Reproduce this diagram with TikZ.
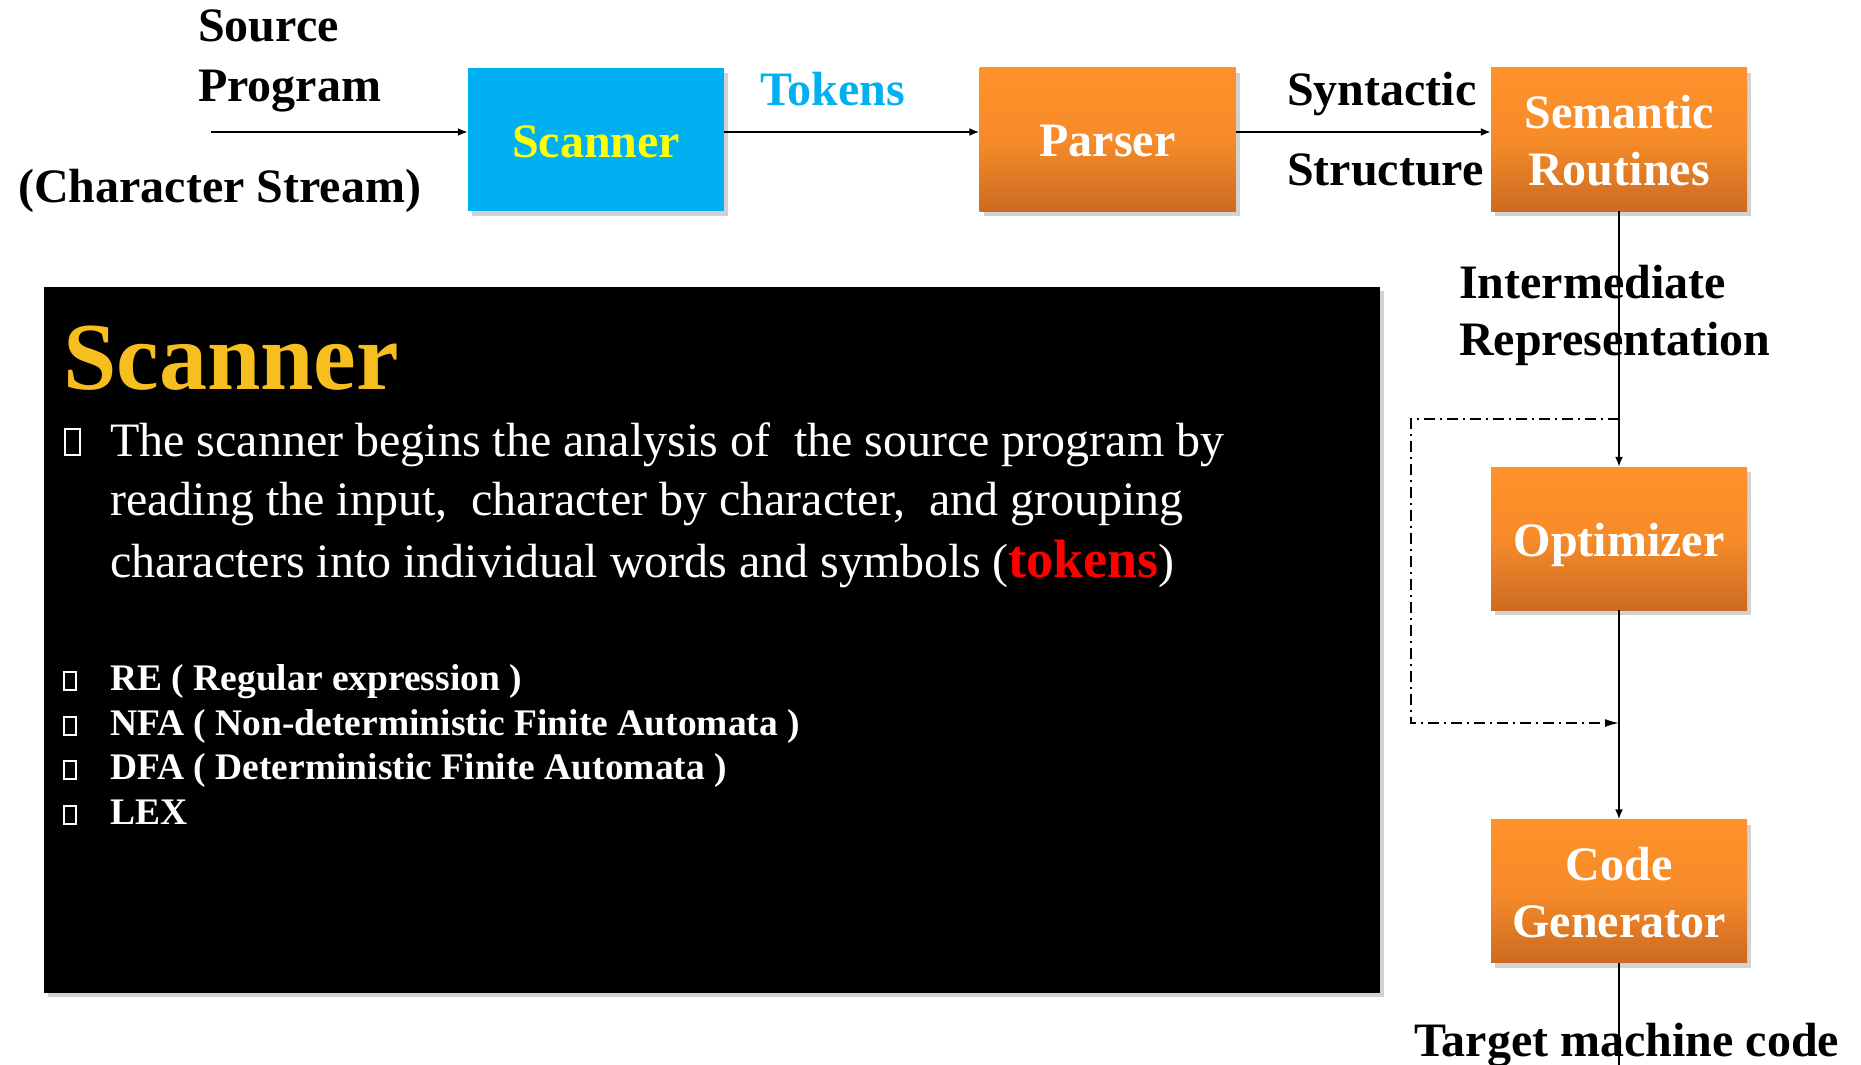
\documentclass[tikz,border=0pt]{standalone}
\usepackage{fontspec}
\setmainfont{Liberation Serif}
\usetikzlibrary{shadows,arrows.meta}

\definecolor{scancyan}{RGB}{0,176,240}
\definecolor{scanyellow}{RGB}{255,255,0}
\definecolor{orangetop}{RGB}{254,145,42}
\definecolor{orangebot}{RGB}{203,107,34}
\definecolor{titlegold}{RGB}{246,190,30}
\definecolor{tokred}{RGB}{255,0,0}

\tikzset{
  phase/.style={minimum width=256pt, minimum height=143pt, inner sep=0pt,
    drop shadow={opacity=0.35, shadow xshift=4pt, shadow yshift=-5pt}},
  orangebox/.style={phase, top color=orangetop, bottom color=orangebot,
    middle color=orangetop!85!orangebot},
  cyanbox/.style={phase, fill=scancyan},
  phasetext/.style={align=center, inner sep=0pt,
    font=\bfseries\fontsize{48}{57}\selectfont, text=white},
  lbl/.style={font=\bfseries\fontsize{48}{57}\selectfont, inner sep=0pt, anchor=base west},
  para/.style={font=\fontsize{48}{58}\selectfont, text=white, inner sep=0pt, anchor=base west},
  item/.style={font=\bfseries\fontsize{37.5}{44}\selectfont, text=white, inner sep=0pt, anchor=base west},
  tofu/.style={draw=white, line width=2.6pt},
  arr/.style={-{Latex[length=10pt,width=8pt]}, line width=1.8pt},
  loop/.style={-{Latex[length=14pt,width=8pt]}, line width=1.5pt,
    dash pattern=on 11pt off 5pt on 2pt off 5pt}
}

\begin{document}
\begin{tikzpicture}[x=1pt,y=-1pt]
\useasboundingbox (0,0) rectangle (1861,1065);
\fill[white] (0,0) rectangle (1861,1065);

% black information panel
\node[fill=black, minimum width=1336pt, minimum height=706pt, inner sep=0pt,
  drop shadow={opacity=0.35, shadow xshift=4pt, shadow yshift=-4pt}]
  (panel) at (712,640) {};

\node[font=\bfseries\fontsize{96}{110}\selectfont, text=titlegold, inner sep=0pt,
  anchor=base west] (title) at (63,389) {Scanner};

\draw[tofu] (65,429) rectangle (80,455);
\node[para] (p1) at (110,456) {The scanner begins the analysis of \ the source program by};
\node[para] (p2) at (110,515) {reading the input, \ character by character, \ and grouping};
\node[para] (p3) at (110,577) {characters into individual words and symbols
  (\textcolor{tokred}{\bfseries\fontsize{54}{58}\selectfont tokens})};

\draw[tofu] (64,672) rectangle (76,690);
\node[item] (i1) at (110,690) {RE ( Regular expression )};
\draw[tofu] (64,717) rectangle (76,735);
\node[item] (i2) at (110,735) {NFA ( Non-deterministic Finite Automata )};
\draw[tofu] (64,761) rectangle (76,779);
\node[item] (i3) at (110,779) {DFA ( Deterministic Finite Automata )};
\draw[tofu] (64,806) rectangle (76,824);
\node[item] (i4) at (110,824) {LEX};

% compiler phases
\node[cyanbox] (scanner) at (596,139.5) {};
\node[orangebox] (parser) at (1107.5,139.5) {};
\node[orangebox] (sem) at (1619,139.5) {};
\node[orangebox] (opt) at (1619,538.5) {};
\node[orangebox] (cg) at (1619,891) {};

\node[phasetext, text=scanyellow] (scannerT) at ([yshift=-2pt]scanner.center) {Scanner};
\node[phasetext] (parserT) at ([yshift=-2pt]parser.center) {Parser};
\node[phasetext] (semT) at ([yshift=-1.5pt]sem.center) {Semantic\\Routines};
\node[phasetext] (optT) at ([yshift=-6pt]opt.center) {Optimizer};
\node[phasetext] (cgT) at ([yshift=-2pt]cg.center) {Code\\Generator};

% labels
\node[lbl] (src1) at (198,42) {Source};
\node[lbl] (src2) at (198,102) {Program};
\node[lbl] (src3) at (18,202) {(Character Stream)};
\node[lbl, text=scancyan] (tok) at (760,106) {Tokens};
\node[lbl] (syn1) at (1287,106) {Syntactic};
\node[lbl] (syn2) at (1287,185) {Structure};
\node[lbl] (ir1) at (1459,298) {Intermediate};
\node[lbl] (ir2) at (1459,355) {Representation};
\node[lbl] (tgt) at (1414,1056) {Target machine code};

% connectors
\coordinate (srcstart) at (211,132);
\coordinate (cgend) at (1619,1070);
\coordinate (loopa) at (1619,419);
\coordinate (loopc) at (1411,723);
\coordinate (loopb) at (1619,723);

\draw[arr] (srcstart) -- ([yshift=7.5pt]scanner.west);
\draw[arr] ([yshift=7.5pt]scanner.east) -- ([yshift=7.5pt]parser.west);
\draw[arr] ([yshift=7.5pt]parser.east) -- ([yshift=7.5pt]sem.west);
\draw[arr] (sem.south) -- (opt.north);
\draw[arr] (opt.south) -- (cg.north);
\draw[line width=1.8pt] (cg.south) -- (cgend);
\draw[loop] (loopa) -| (loopc) -- (loopb);
\end{tikzpicture}
\end{document}
